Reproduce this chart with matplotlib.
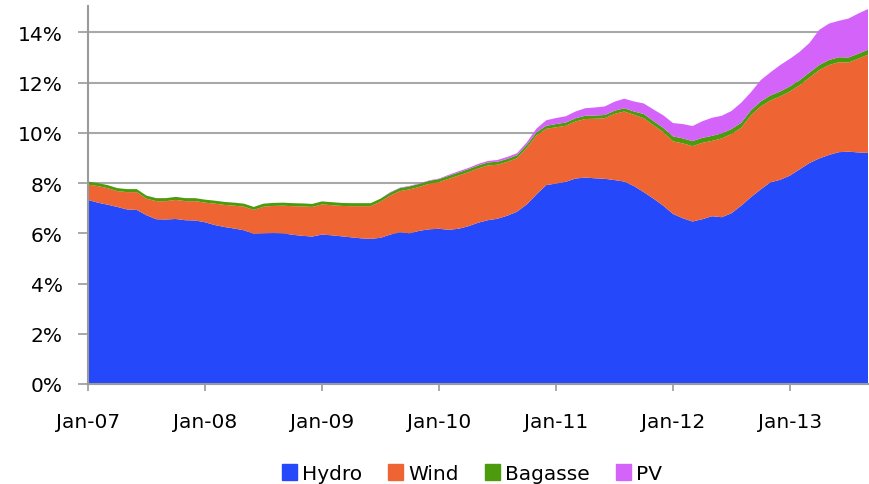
import numpy as np
import matplotlib
matplotlib.use("Agg")
from matplotlib import pyplot as plt
from matplotlib.patches import Rectangle
from matplotlib.ticker import PercentFormatter

# monthly share of generation (%), Jan-07 .. Sep-13
hydro = [7.33, 7.22, 7.14, 7.05, 6.95, 6.93, 6.72, 6.56, 6.55, 6.57,
         6.52, 6.51, 6.44, 6.33, 6.25, 6.19, 6.12, 5.98, 6.00, 6.01,
         6.00, 5.94, 5.90, 5.87, 5.95, 5.92, 5.88, 5.84, 5.80, 5.78,
         5.82, 5.95, 6.04, 6.00, 6.10, 6.16, 6.18, 6.14, 6.18, 6.28,
         6.42, 6.52, 6.58, 6.70, 6.86, 7.15, 7.55, 7.92, 7.98, 8.05,
         8.18, 8.22, 8.19, 8.17, 8.12, 8.06, 7.88, 7.64, 7.38, 7.10,
         6.77, 6.60, 6.47, 6.56, 6.68, 6.64, 6.80, 7.10, 7.44, 7.75,
         8.03, 8.13, 8.30, 8.55, 8.80, 8.98, 9.12, 9.23, 9.25, 9.22,
         9.20]
wind = [0.61, 0.66, 0.66, 0.63, 0.69, 0.71, 0.66, 0.72, 0.73, 0.76,
        0.76, 0.77, 0.78, 0.85, 0.88, 0.91, 0.94, 0.95, 1.06, 1.08,
        1.10, 1.14, 1.17, 1.18, 1.20, 1.20, 1.21, 1.24, 1.28, 1.30,
        1.44, 1.55, 1.64, 1.75, 1.75, 1.81, 1.86, 2.03, 2.12, 2.15,
        2.16, 2.18, 2.15, 2.14, 2.13, 2.25, 2.35, 2.24, 2.24, 2.23,
        2.27, 2.33, 2.37, 2.41, 2.63, 2.79, 2.84, 2.94, 2.92, 2.93,
        2.89, 2.98, 3.00, 3.04, 3.00, 3.14, 3.15, 3.10, 3.26, 3.30,
        3.26, 3.32, 3.35, 3.35, 3.40, 3.52, 3.58, 3.58, 3.55, 3.73,
        3.91]
bagasse = [0.12] * 48 + [0.13] * 9 + [0.17] * 3 + [0.20] * 21
pv = [0.0] * 31 + [0.02] * 6 + [0.04, 0.05, 0.05, 0.06, 0.06, 0.07, 0.08, 0.08,
      0.10, 0.15, 0.22, 0.24, 0.25, 0.27, 0.30, 0.32, 0.34, 0.36, 0.38, 0.40,
      0.42, 0.46, 0.50, 0.53, 0.57, 0.60, 0.66, 0.72, 0.70, 0.72, 0.80, 0.72,
      0.85, 0.92, 1.05, 1.10, 1.13, 1.18, 1.40, 1.45, 1.45, 1.55, 1.60, 1.62]
labels = ['Hydro', 'Wind', 'Bagasse', 'PV']
colors = ['#2448FA', '#EE6533', '#4B9B0C', '#D463FA']
tick_labels = ['Jan-07', 'Jan-08', 'Jan-09', 'Jan-10', 'Jan-11', 'Jan-12', 'Jan-13']

months = np.arange(len(hydro))

fig = plt.figure(figsize=(8.69, 4.85), dpi=100)
ax = fig.add_axes([88 / 869, 100 / 485, 780 / 869, 378 / 485])
ax.stackplot(months, hydro, wind, bagasse, pv, colors=colors, linewidth=0)

ax.set_xlim(0, months[-1])
ax.set_ylim(0, 15.05)
ax.set_xticks(np.arange(len(tick_labels)) * 12)
ax.set_xticklabels(tick_labels)
ax.set_yticks(np.arange(0, 15, 2))
ax.yaxis.set_major_formatter(PercentFormatter(decimals=0))

ax.set_axisbelow(True)
ax.grid(axis='y', color='#A8A8A8', linewidth=1.5)
for s in ['top', 'right']:
    ax.spines[s].set_visible(False)
for s in ['left', 'bottom']:
    ax.spines[s].set_color('#9A9A9A')
    ax.spines[s].set_linewidth(1.5)
ax.tick_params(axis='both', colors='#9A9A9A', labelcolor='black', labelsize=14.5, width=1.2)
ax.tick_params(axis='x', length=5, pad=15)
ax.tick_params(axis='y', length=7, pad=11)

handles = [Rectangle((0, 0), 1, 1, color=c) for c in colors]
fig.legend(handles, labels, loc='center', bbox_to_anchor=(0.543, 0.022), ncol=4,
           frameon=False, fontsize=14.5, handlelength=0.75, handleheight=0.85,
           handletextpad=0.25, columnspacing=1.3)

fig.savefig('out.png', dpi=100)
